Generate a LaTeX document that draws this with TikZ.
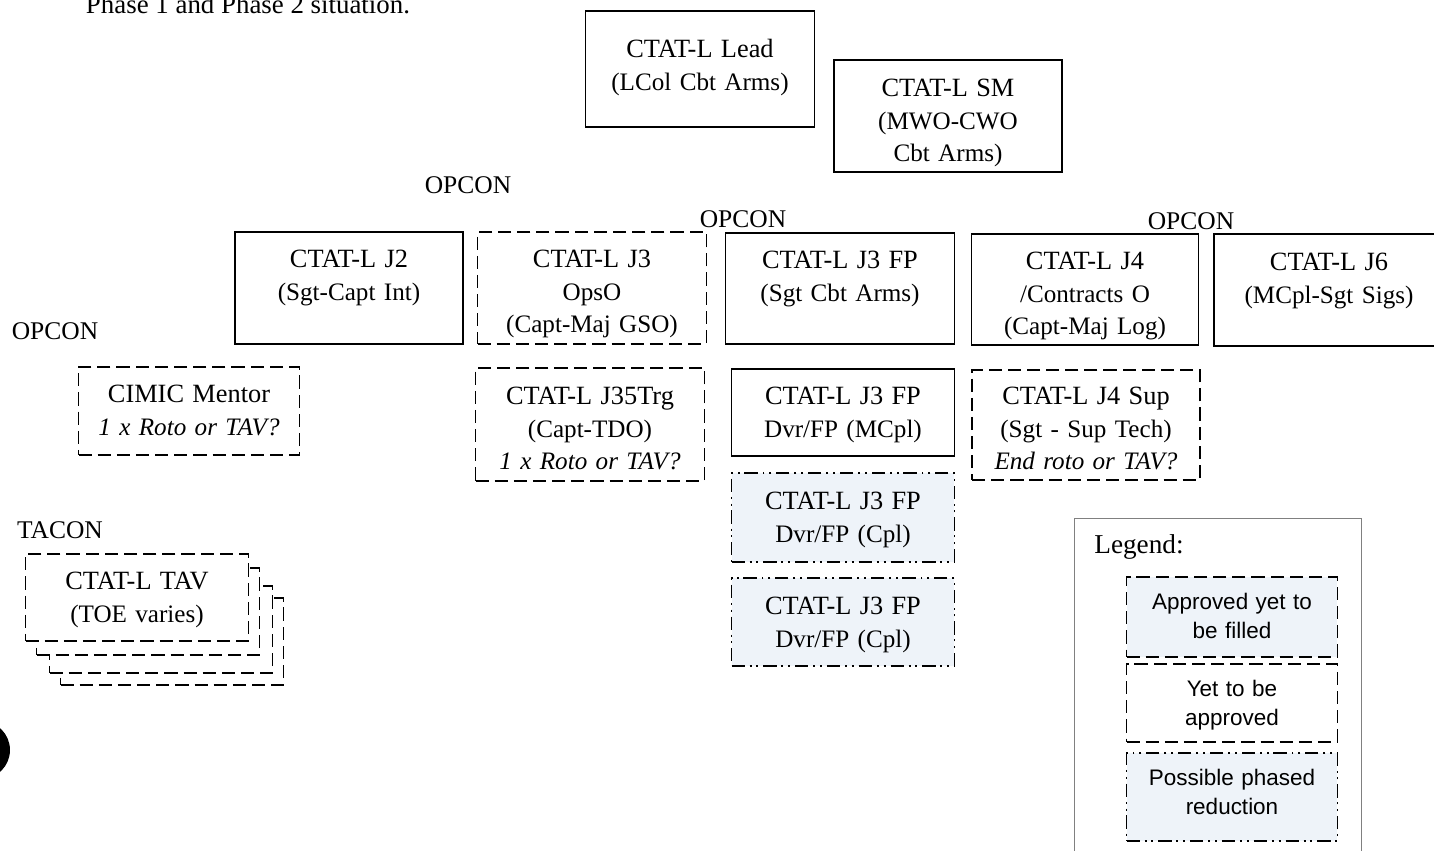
\documentclass[tikz,border=0pt]{standalone}
\usepackage{fontspec}
\setmainfont{Liberation Serif}
\setsansfont{Liberation Sans}
\usetikzlibrary{positioning}
\definecolor{shade}{HTML}{EEF3F9}
\newcommand{\hd}[1]{{\fontsize{15}{18.5}\selectfont #1}}

\begin{document}
\begin{tikzpicture}[x=0.02cm, y=-0.02cm,
  post/.style={draw, line width=1.1pt, anchor=north, align=center,
    inner xsep=0pt, inner ysep=0pt, text height=0.72cm,
    font=\fontsize{14.3}{18.5}\selectfont},
  open/.style={post, dash pattern=on 7.5pt off 3.4pt},
  phased/.style={post, fill=shade,
    dash pattern=on 7.5pt off 2.8pt on 1.1pt off 2.8pt on 1.1pt off 2.8pt},
  ctrl/.style={inner sep=0pt, font=\fontsize{14.5}{17}\selectfont},
  key/.style={font=\sffamily\fontsize{12.8}{16.5}\selectfont,
    text height=0.66cm, text width=4.22cm},
  ]
  \useasboundingbox (0,0) rectangle (1434,850);
  \clip (0,0) rectangle (1434,850);

  \node[anchor=base, inner sep=0pt, font=\fontsize{15.3}{18}\selectfont] (title)
    at (248,13) {Phase 1 and Phase 2 situation.};
  \fill (-19,750) circle (0.58cm);

  % top
  \node[post, text width=4.58cm, text height=0.94cm, text depth=1.38cm] (lead)
    at (700,10) {\hd{CTAT-L Lead}\\(LCol Cbt Arms)};
  \node[post, text width=4.56cm, text height=0.74cm, text depth=1.50cm] (sm)
    at (948,59) {\hd{CTAT-L SM}\\(MWO-CWO\\Cbt Arms)};

  % control labels
  \node[ctrl] (opconj) at (468,185) {OPCON};
  \node[ctrl] (opconfp) at (743,219) {OPCON};
  \node[ctrl] (opconlog) at (1191,221) {OPCON};
  \node[ctrl] (opconcimic) at (55,331) {OPCON};
  \node[ctrl] (tacon) at (60,530) {TACON};

  % row 1
  \node[post, text width=4.56cm, text depth=1.52cm] (jtwo)
    at (349,231) {\hd{CTAT-L J2}\\(Sgt-Capt Int)};
  \node[open, text width=4.58cm, text depth=1.52cm] (jthree)
    at (592,231) {\hd{CTAT-L J3}\\OpsO\\(Capt-Maj GSO)};
  \node[post, text width=4.58cm, text depth=1.50cm] (fp)
    at (840,232) {\hd{CTAT-L J3 FP}\\(Sgt Cbt Arms)};
  \node[post, text width=4.54cm, text depth=1.50cm] (jfour)
    at (1085,233) {\hd{CTAT-L J4}\\/Contracts O\\(Capt-Maj Log)};
  \node[post, text width=4.60cm, text height=0.74cm, text depth=1.50cm] (jsix)
    at (1329,233) {\hd{CTAT-L J6}\\(MCpl-Sgt Sigs)};

  % row 2
  \node[open, text width=4.42cm, text depth=1.04cm] (cimic)
    at (189,366) {\hd{CIMIC Mentor}\\\textit{1 x Roto or TAV?}};
  \node[open, text width=4.58cm, text height=0.74cm, text depth=1.52cm] (trg)
    at (590,367) {\hd{CTAT-L J35Trg}\\(Capt-TDO)\\\textit{1 x Roto or TAV?}};
  \node[post, text width=4.46cm, text depth=1.02cm] (fpm)
    at (843,368) {\hd{CTAT-L J3 FP}\\Dvr/FP (MCpl)};
  \node[open, text width=4.56cm, text height=0.70cm, text depth=1.50cm] (sup)
    at (1086,369) {\hd{CTAT-L J4 Sup}\\(Sgt - Sup Tech)\\\textit{End roto or TAV?}};

  % phased
  \node[phased, text width=4.46cm, text height=0.74cm, text depth=1.04cm] (cplone)
    at (843,472) {\hd{CTAT-L J3 FP}\\Dvr/FP (Cpl)};
  \node[phased, text width=4.46cm, text height=0.74cm, text depth=1.02cm] (cpltwo)
    at (843,577) {\hd{CTAT-L J3 FP}\\Dvr/FP (Cpl)};

  % TAV stack
  \node[open, fill=white, text width=4.46cm, text depth=1.02cm] (tavc) at (172,597) {};
  \node[open, fill=white, text width=4.46cm, text depth=1.02cm] (tavb) at (161,585) {};
  \node[open, fill=white, text width=4.46cm, text depth=1.02cm] (tava) at (148,567) {};
  \node[open, fill=white, text width=4.46cm, text depth=1.02cm] (tav)
    at (137,553) {\hd{CTAT-L TAV}\\(TOE varies)};

  % legend
  \node[draw=gray, line width=0.6pt, anchor=north west, inner sep=0pt,
    minimum width=5.74cm, minimum height=6.9cm] (legend) at (1074,518) {};
  \node[inner sep=0pt, font=\fontsize{15.5}{18}\selectfont] (legendtitle)
    at (1139,547) {Legend:};
  \node[open, key, fill=shade, text depth=0.94cm] (keyfilled)
    at (1232,576) {Approved yet to\\be filled};
  \node[open, key, text depth=0.90cm] (keyopen)
    at (1232,663) {Yet to be\\approved};
  \node[phased, key, text depth=1.10cm] (keyphased)
    at (1232,752) {Possible phased\\reduction};
\end{tikzpicture}
\end{document}
